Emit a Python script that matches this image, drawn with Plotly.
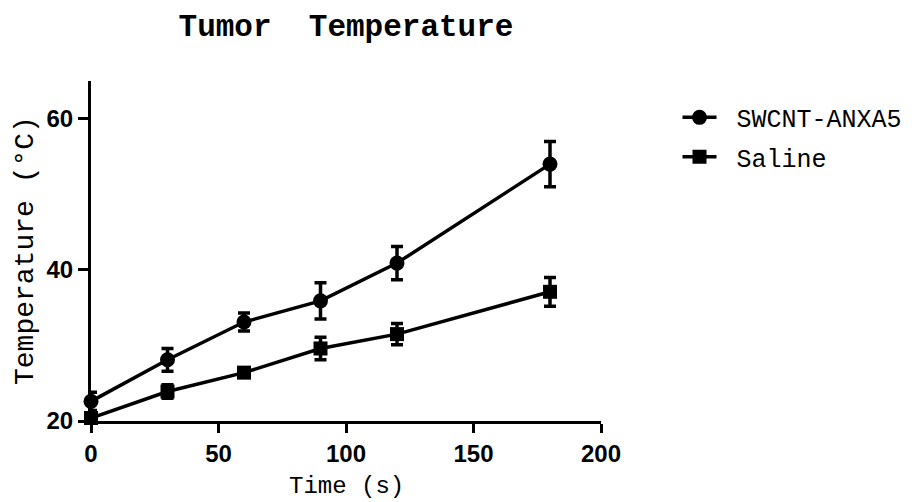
import plotly.graph_objects as go

time_s = [0, 30, 60, 90, 120, 180]
swcnt_mean = [22.6, 28.1, 33.1, 35.9, 40.9, 54.0]
swcnt_err = [1.2, 1.5, 1.2, 2.4, 2.2, 3.0]
saline_mean = [20.4, 23.9, 26.4, 29.6, 31.5, 37.1]
saline_err = [0.6, 0.9, 0.5, 1.5, 1.4, 1.9]

x_ticks = [0, 50, 100, 150, 200]
y_ticks = [20, 40, 60]

mono = "Liberation Mono, Courier New, monospace"
sans = "Liberation Sans, Arial, sans-serif"

fig = go.Figure()
fig.add_trace(go.Scatter(
    x=time_s, y=swcnt_mean, name=" SWCNT-ANXA5", mode="lines+markers",
    line=dict(color="black", width=3.5),
    marker=dict(symbol="circle", size=15, color="black"),
    error_y=dict(type="data", array=swcnt_err, visible=True, color="black", thickness=3.5, width=6),
    legendgroup="a", cliponaxis=False,
))
fig.add_trace(go.Scatter(
    x=time_s, y=saline_mean, name=" Saline", mode="lines+markers",
    line=dict(color="black", width=3.5),
    marker=dict(symbol="square", size=14, color="black"),
    error_y=dict(type="data", array=saline_err, visible=True, color="black", thickness=3.5, width=6),
    legendgroup="b", cliponaxis=False,
))

fig.update_layout(
    width=922, height=502,
    margin=dict(l=91, r=321, t=81, b=81, autoexpand=False),
    paper_bgcolor="white", plot_bgcolor="white",
    title=dict(text="<b>Tumor  Temperature</b>", x=0.5, xref="paper", xanchor="center",
               y=1 - 25 / 502, yref="container", yanchor="middle",
               font=dict(family=mono, size=31, color="black")),
    showlegend=True,
    legend=dict(x=1.15, xanchor="left", y=0.96, yanchor="top",
                font=dict(family=mono, size=25, color="black"),
                tracegroupgap=4, bgcolor="rgba(0,0,0,0)", itemwidth=34),
    xaxis=dict(range=[0, 200], tickvals=x_ticks, ticktext=[str(v) for v in x_ticks],
               showline=True, linecolor="black", linewidth=3, mirror=False,
               ticks="outside", ticklen=9, tickwidth=3, tickcolor="black",
               showgrid=False, zeroline=False, automargin=False,
               tickfont=dict(family=sans, size=24, color="black", weight="bold")),
    yaxis=dict(range=[20, 65], tickvals=y_ticks, ticktext=[str(v) for v in y_ticks],
               showline=True, linecolor="black", linewidth=3, mirror=False,
               ticks="outside", ticklen=10, tickwidth=3, tickcolor="black",
               showgrid=False, zeroline=False, automargin=False,
               tickfont=dict(family=sans, size=24, color="black", weight="bold")),
    annotations=[
        dict(text="Time (s)", xref="paper", yref="paper", x=0.5, y=(421 - 486) / 340,
             xanchor="center", yanchor="middle", showarrow=False,
             font=dict(family=mono, size=24, color="black")),
        dict(text="Temperature (°C)", xref="paper", yref="paper", x=(25 - 91) / 510, y=0.5,
             xanchor="center", yanchor="middle", showarrow=False, textangle=-90,
             font=dict(family=mono, size=28, color="black")),
    ],
)

fig.write_html("out.html")
